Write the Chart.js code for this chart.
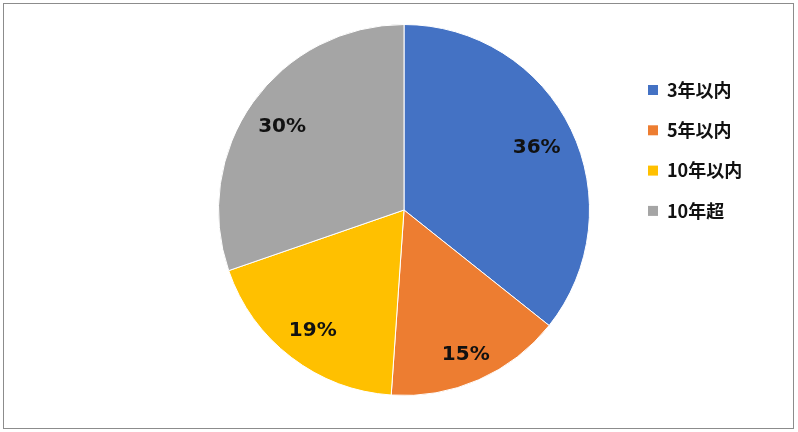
<!DOCTYPE html>
<html>
<head>
<meta charset="utf-8">
<script src="https://cdn.jsdelivr.net/npm/chart.js@4.4.1/dist/chart.umd.min.js"></script>
<style>
  html, body { margin: 0; padding: 0; background: #fff; }
  #wrap { width: 798px; height: 432px; position: relative; }
</style>
</head>
<body>
<div id="wrap"><canvas id="pieChart" width="798" height="432"></canvas></div>
<script>
const labels = ["3年以内", "5年以内", "10年以内", "10年超"];
const shares = [35.7, 15.4, 18.6, 30.3];
const pctLabels = ["36%", "15%", "19%", "30%"];
const colors = ["#4472C4", "#ED7D31", "#FFC000", "#A5A5A5"];

const FONT = "'Noto Sans CJK JP', 'Noto Sans', sans-serif";

// Percentage labels inside each slice (small slice pushed a bit outward)
const sliceLabels = {
  id: "sliceLabels",
  afterDatasetsDraw(chart) {
    const ctx = chart.ctx;
    const meta = chart.getDatasetMeta(0);
    ctx.save();
    ctx.font = "bold 20px 'DejaVu Sans', sans-serif";
    ctx.fillStyle = "#111";
    ctx.textAlign = "center";
    ctx.textBaseline = "middle";
    meta.data.forEach((arc, i) => {
      const mid = (arc.startAngle + arc.endAngle) / 2;
      const r = arc.outerRadius * (shares[i] < 17 ? 0.84 : 0.8);
      ctx.fillText(pctLabels[i], arc.x + Math.cos(mid) * r - 1, arc.y + Math.sin(mid) * r + 2.5);
    });
    ctx.restore();
  },
};

// Legend on the right and frame
const sideLegend = {
  id: "sideLegend",
  afterDraw(chart) {
    const ctx = chart.ctx;
    ctx.save();
    ctx.strokeStyle = "#8c8c8c";
    ctx.lineWidth = 1;
    ctx.strokeRect(3.5, 3.5, 790, 425);
    ctx.font = "bold 18px " + FONT;
    ctx.textBaseline = "middle";
    labels.forEach((lab, i) => {
      const y = 90 + i * 40.3;
      ctx.fillStyle = colors[i];
      ctx.fillRect(648, y - 5, 10, 10);
      ctx.fillStyle = "#111";
      ctx.fillText(lab, 667, y);
    });
    ctx.restore();
  },
};

const ctx = document.getElementById("pieChart").getContext("2d");
const pieChart = new Chart(ctx, {
  type: "pie",
  data: {
    labels: labels,
    datasets: [
      {
        data: shares,
        backgroundColor: colors,
        borderColor: "#ffffff",
        borderWidth: 1,
      },
    ],
  },
  options: {
    responsive: false,
    animation: false,
    layout: {
      padding: { left: 218, right: 208, top: 24, bottom: 36 },
    },
    plugins: {
      legend: { display: false },
      tooltip: { enabled: false },
    },
  },
  plugins: [sliceLabels, sideLegend],
});
</script>
</body>
</html>
